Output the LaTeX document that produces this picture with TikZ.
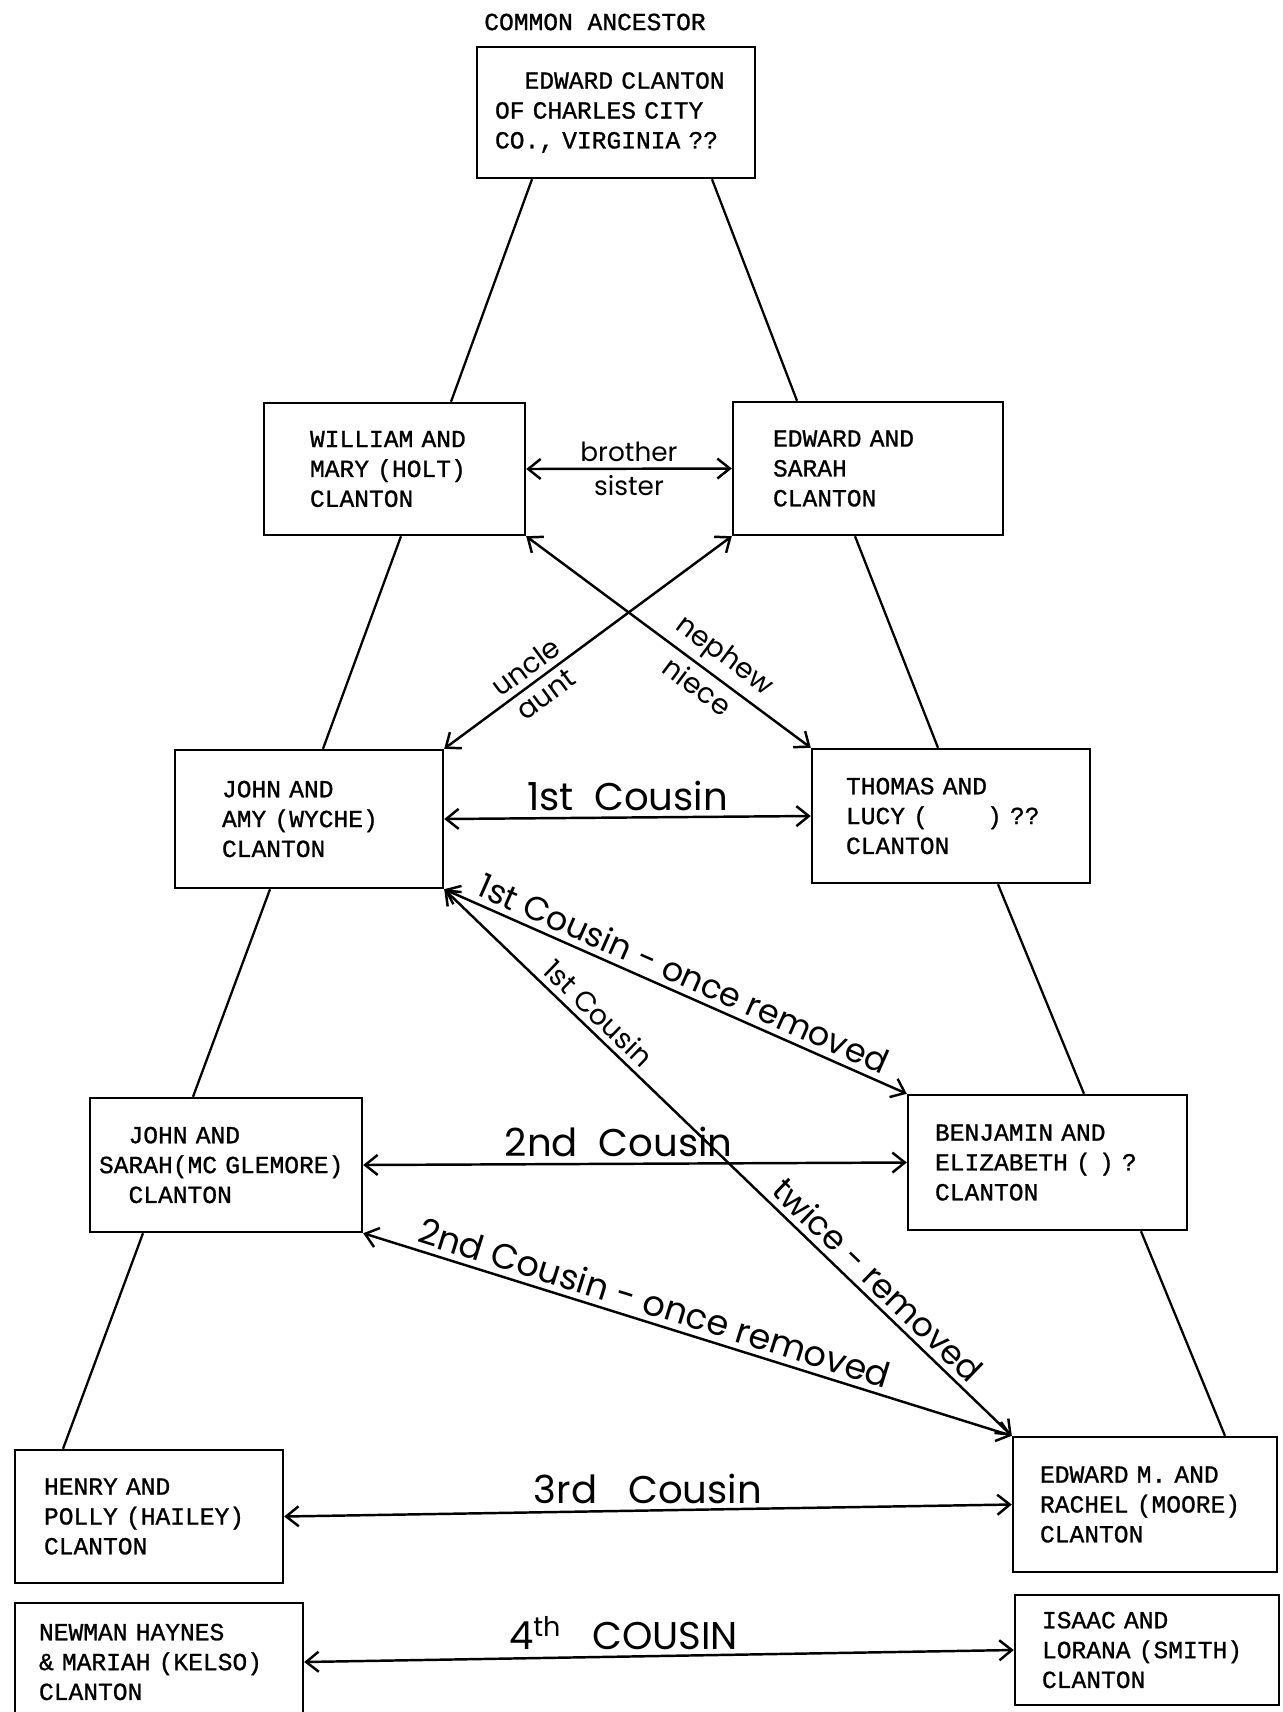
\documentclass[tikz,border=0pt]{standalone}
\usepackage{fontspec}
\newfontfamily\typewfont{Liberation Mono}[WordSpace={1,0,0}, BoldFont={Liberation Mono}, BoldFeatures={FakeBold=1}]
\newfontfamily\handfont{Poppins}
\usetikzlibrary{arrows.meta}

\begin{document}
\begin{tikzpicture}[x=0.02cm, y=-0.02cm,
  fam/.style={draw, line width=1.4pt, font=\typewfont\bfseries\fontsize{14}{17}\selectfont, align=left, inner ysep=0pt},
  tree/.style={line width=1.3pt},
  rel/.style={<->, >={Straight Barb[length=2.5mm, width=4mm]}, line width=1.4pt},
  hand/.style={font=\handfont\fontsize{#1}{#1}\selectfont}]
\useasboundingbox[fill=white] (0,0) rectangle (1283,1712);

\node[font=\typewfont\bfseries\fontsize{14}{17}\selectfont] (title) at (595,22) {COMMON ANCESTOR};
\node[fam, text width=4.84cm, inner xsep=0.36cm, minimum height=2.62cm] (anc) at (616,112.5) {\hphantom{XX}EDWARD CLANTON\\OF CHARLES CITY\\CO., VIRGINIA ??};
\node[fam, text width=3.38cm, inner xsep=0.92cm, minimum height=2.64cm] (will) at (394.5,469) {WILLIAM AND\\MARY (HOLT)\\CLANTON};
\node[fam, text width=3.8cm, inner xsep=0.8cm, minimum height=2.66cm] (edw) at (868,468.5) {EDWARD AND\\SARAH\\CLANTON};
\node[fam, text width=3.48cm, inner xsep=0.94cm, minimum height=2.76cm] (john) at (309,819) {JOHN AND\\AMY (WYCHE)\\CLANTON};
\node[fam, text width=4.2cm, inner xsep=0.68cm, minimum height=2.68cm] (thom) at (951,816) {THOMAS AND\\LUCY (\hphantom{XXXX}) ??\\CLANTON};
\node[fam, text width=5.08cm, inner xsep=0.18cm, minimum height=2.68cm] (jsar) at (226,1165) {\hphantom{XX}JOHN AND\\SARAH(MC GLEMORE)\\\hphantom{XX}CLANTON};
\node[fam, text width=4.5cm, inner xsep=0.54cm, minimum height=2.7cm] (benj) at (1047.5,1162.5) {BENJAMIN AND\\ELIZABETH ( ) ?\\CLANTON};
\node[fam, text width=4.2cm, inner xsep=0.58cm, minimum height=2.66cm] (henr) at (149,1516.5) {HENRY AND\\POLLY (HAILEY)\\CLANTON};
\node[fam, text width=4.2cm, inner xsep=0.54cm, minimum height=2.7cm] (edm) at (1145,1504.5) {EDWARD M. AND\\RACHEL (MOORE)\\CLANTON};
\node[fam, text width=4.8cm, inner xsep=0.48cm, minimum height=2.36cm] (newm) at (159,1662) {NEWMAN HAYNES\\\& MARIAH (KELSO)\\CLANTON};
\node[fam, text width=4.2cm, inner xsep=0.54cm, minimum height=2.2cm] (isaac) at (1147,1650) {ISAAC AND\\LORANA (SMITH)\\CLANTON};

\draw[tree] ([xshift=-1.68cm]anc.south) -- ([xshift=1.13cm]will.north);
\draw[tree] ([xshift=1.92cm]anc.south) -- ([xshift=-1.42cm]edw.north);
\draw[tree] ([xshift=0.13cm]will.south) -- ([xshift=0.28cm]john.north);
\draw[tree] ([xshift=-0.26cm]edw.south) -- ([xshift=-0.26cm]thom.north);
\draw[tree] ([xshift=-0.78cm]john.south) -- ([xshift=-0.66cm]jsar.north);
\draw[tree] ([xshift=0.94cm]thom.south) -- ([xshift=0.73cm]benj.north);
\draw[tree] ([xshift=-1.66cm]jsar.south) -- ([xshift=-1.72cm]henr.north);
\draw[tree] ([xshift=1.87cm]benj.south) -- ([xshift=1.6cm]edm.north);

\draw[rel] (will.east) -- (edw.west) node[midway, above, hand=15] (lbro) {brother} node[midway, below, hand=15] (lsis) {sister};
\draw[rel] (john.north east) -- (edw.south west) node[pos=0.32, sloped, above, hand=16] (lunc) {uncle} node[pos=0.32, sloped, below, hand=16] (laun) {aunt};
\draw[rel] (will.south east) -- (thom.north west) node[pos=0.65, sloped, above, hand=16] (lnep) {nephew} node[pos=0.64, sloped, below, hand=16] (lnie) {niece};
\draw[rel] (john.east) -- (thom.west) node[midway, above, hand=22] (lc1) {1st\ \ Cousin};
\draw[rel] (john.south east) -- (benj.north west) node[pos=0.5, sloped, above, hand=19] (lc1r1) {1st Cousin - once removed};
\draw[rel] (john.south east) -- (edm.north west) node[pos=0.25, sloped, above, hand=16] (lc1r2a) {1st Cousin} node[pos=0.74, sloped, above, hand=19] (lc1r2b) {twice - removed};
\draw[rel] (jsar.east) -- (benj.west) node[pos=0.47, above, hand=22] (lc2) {2nd\ \ Cousin};
\draw[rel] (jsar.south east) -- (edm.north west) node[pos=0.44, sloped, above, hand=20] (lc2r1) {2nd Cousin - once removed};
\draw[rel] (henr.east) -- (edm.west) node[midway, above, hand=22] (lc3) {3rd\ \ \ Cousin};
\draw[rel] (newm.east) -- (isaac.west) node[pos=0.45, above, hand=22] (lc4) {4\textsuperscript{th}\ \ \ COUSIN};
\end{tikzpicture}
\end{document}
